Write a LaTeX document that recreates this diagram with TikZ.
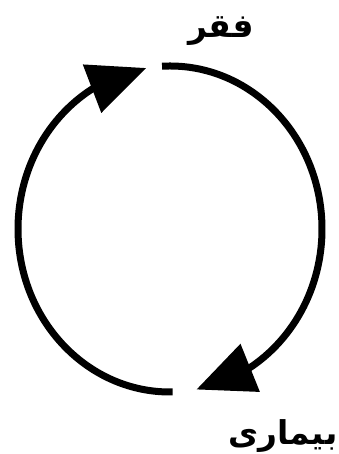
\documentclass[tikz,border=0pt]{standalone}
\usepackage{fontspec}
\newfontfamily\arabicfont[Script=Arabic]{DejaVu Sans}
\TeXXeTstate=1
\usetikzlibrary{arrows.meta,calc,bending}

\begin{document}
\begin{tikzpicture}[x=0.03cm,y=0.03cm, every node/.style={font=\arabicfont\bfseries\fontsize{28}{32}\selectfont}]
    \useasboundingbox (0,0) rectangle (338,454);
    \coordinate (c) at (170,225);
    \coordinate (t) at ($(c)+(93:152 and 163)$);
    \coordinate (b) at ($(c)+(271:152 and 163)$);
    \node (poverty) at (221,423) {\beginR فقر\endR};
    \node (illness) at (283,18) {\beginR بیماری\endR};
    \draw[line width=0.21cm, -{Triangle[length=1.74cm, width=1.5cm, flex=1]}] (t) arc[start angle=93, end angle=-80, x radius=152, y radius=163];
    \draw[line width=0.21cm, -{Triangle[length=1.74cm, width=1.5cm, flex=1]}] (b) arc[start angle=271, end angle=99, x radius=152, y radius=163];
\end{tikzpicture}
\end{document}
